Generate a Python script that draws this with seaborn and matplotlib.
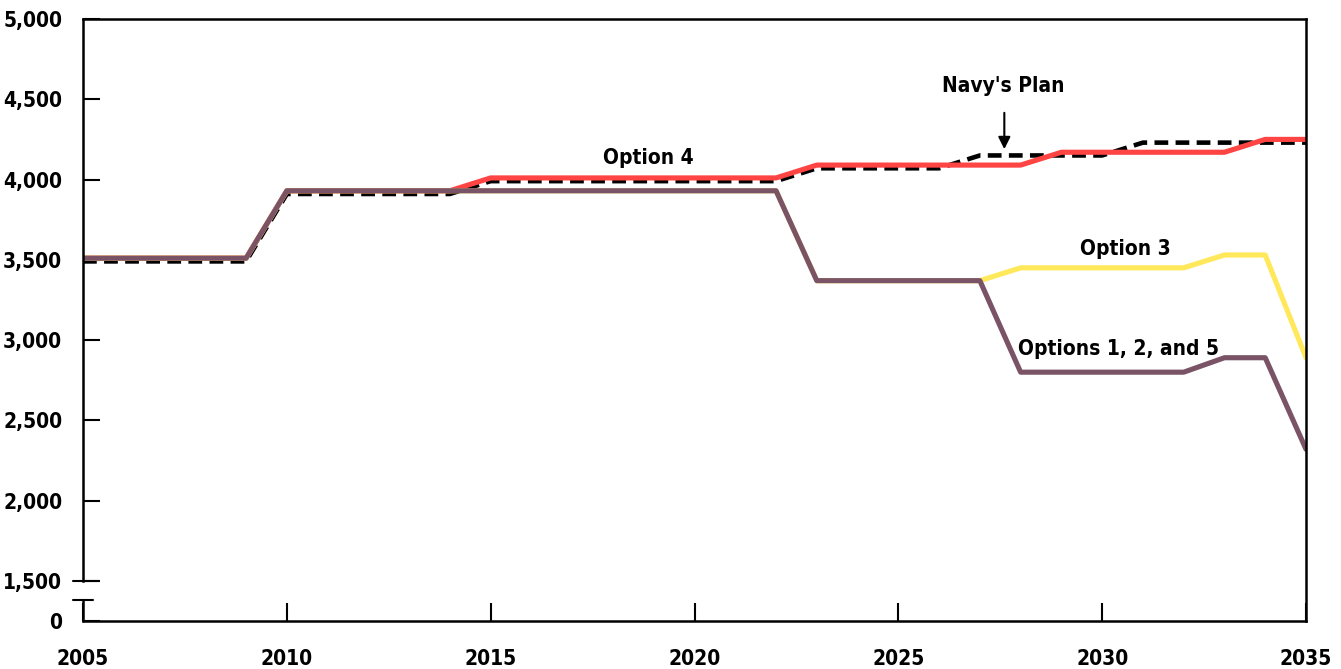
import numpy as np
import pandas as pd
import matplotlib
matplotlib.use("Agg")
import matplotlib.pyplot as plt
import matplotlib.transforms as mtransforms
import seaborn as sns

# ================================
# data
# ================================
years = list(range(2005, 2036))

navy_plan = [3490] * 5 + [3910] * 5 + [3990] * 8 + [4070] * 4 + [4150] * 4 + [4230] * 5
option_4 = [3510] * 5 + [3930] * 5 + [4010] * 8 + [4090] * 6 + [4170] * 5 + [4250] * 2
option_3 = [3510] * 5 + [3930] * 13 + [3370] * 5 + [3450] * 5 + [3530] * 2 + [2890]
options_125 = [3510] * 5 + [3930] * 13 + [3370] * 5 + [2800] * 5 + [2890] * 2 + [2320]

ytick_vals = [1250, 1500, 2000, 2500, 3000, 3500, 4000, 4500, 5000]
ytick_labels = ["0", "1,500", "2,000", "2,500", "3,000", "3,500", "4,000", "4,500", "5,000"]
xtick_vals = [2005, 2010, 2015, 2020, 2025, 2030, 2035]

df = pd.DataFrame({"year": years, "navy": navy_plan, "opt4": option_4,
                   "opt3": option_3, "opt125": options_125})

# ================================
# style
# ================================
sns.set_style("white")
plt.rcParams['font.family'] = ['DejaVu Sans']
plt.rcParams['font.weight'] = 'bold'
plt.rcParams['font.stretch'] = 'condensed'
plt.rcParams['text.color'] = 'black'

fig = plt.figure(figsize=(13.41, 6.69), dpi=100)
ax = fig.add_axes([83 / 1341, 1 - 621 / 669, 1223 / 1341, 602 / 669])

# lines (bottom to top)
sns.lineplot(data=df, x="year", y="navy", ax=ax, color="black", linewidth=3.3,
             linestyle=(0, (3.0, 1.6)))
sns.lineplot(data=df, x="year", y="opt4", ax=ax, color="#FF4444", linewidth=3.7)
sns.lineplot(data=df, x="year", y="opt3", ax=ax, color="#FFE85A", linewidth=3.7)
sns.lineplot(data=df, x="year", y="opt125", ax=ax, color="#7A5466", linewidth=3.7)

ax.set_xlim(2005, 2035)
ax.set_ylim(1250, 5000)
ax.set_xlabel("")
ax.set_ylabel("")

fs = 15
ax.set_xticks(xtick_vals)
ax.set_xticklabels([str(x) for x in xtick_vals])
ax.set_yticks(ytick_vals)
ax.set_yticklabels(ytick_labels)
ax.tick_params(axis="x", direction="in", length=13, width=1.5, pad=20,
               labelsize=fs, bottom=True, colors="black")
ax.tick_params(axis="y", direction="in", length=12, width=1.5, pad=15,
               labelsize=fs, left=True, colors="black")
for lab in ax.get_xticklabels() + ax.get_yticklabels():
    lab.set_fontweight("bold")

for s in ax.spines.values():
    s.set_linewidth(1.8)
    s.set_color("black")
ax.spines["left"].set_bounds(1500, 5000)

# axis break on the left
trans = mtransforms.blended_transform_factory(ax.transAxes, ax.transData)
ax.plot([0, 0], [1250, 1382], transform=trans, color="black", lw=1.8, clip_on=False)
ax.plot([-0.0082, 0.0131], [1500, 1500], transform=trans, color="black", lw=1.5, clip_on=False)
ax.plot([-0.0082, 0.0082], [1382, 1382], transform=trans, color="black", lw=1.5, clip_on=False)

# labels
ax.text(2018.86, 4135, "Option 4", ha="center", va="center", fontsize=fs, fontweight="bold")
ax.text(2027.57, 4583, "Navy's Plan", ha="center", va="center", fontsize=fs, fontweight="bold")
ax.annotate("", xy=(2027.6, 4172), xytext=(2027.6, 4433),
            arrowprops=dict(arrowstyle="-|>", color="black", lw=1.5, mutation_scale=18))
ax.text(2030.56, 3568, "Option 3", ha="center", va="center", fontsize=fs, fontweight="bold")
ax.text(2030.39, 2945, "Options 1, 2, and 5", ha="center", va="center", fontsize=fs,
        fontweight="bold")

fig.savefig("out.png", dpi=100)
